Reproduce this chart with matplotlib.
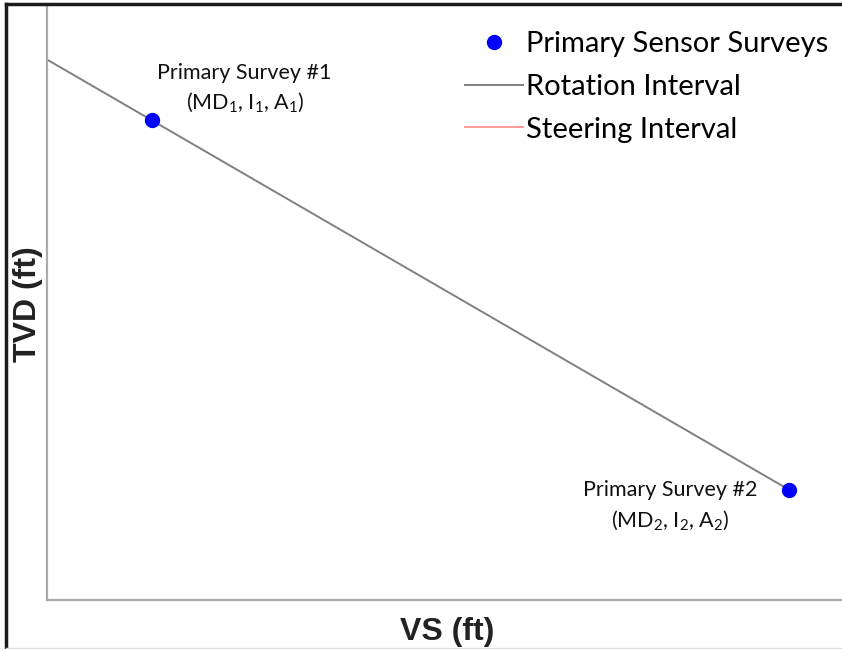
import matplotlib
matplotlib.use("Agg")
import matplotlib.pyplot as plt
from matplotlib.lines import Line2D

# survey stations (VS, TVD)
vs_surveys = [106, 747]
tvd_surveys = [116, 489]
survey_titles = ["Primary Survey #1", "Primary Survey #2"]
survey_params = [r"(MD$_1$, I$_1$, A$_1$)", r"(MD$_2$, I$_2$, A$_2$)"]

# rotation interval, starts at the TVD axis
vs_rotation = [0, 747]
tvd_rotation = [55, 489]

plt.rcParams['font.family'] = ['Lato', 'DejaVu Sans']
plt.rcParams['mathtext.default'] = 'regular'

W, H = 842, 649
fig = plt.figure(figsize=(W / 100, H / 100), dpi=100)
ax = fig.add_axes([47 / W, 1 - 600 / H, 795 / W, 595 / H])

ax.plot(vs_rotation, tvd_rotation, color='#808080', lw=1.4, label='Rotation Interval', zorder=2)
ax.plot([], [], color='#ff9a9a', lw=1.4, label='Steering Interval')
ax.plot(vs_surveys, tvd_surveys, 'o', color='#0000ff', ms=10, ls='none',
        label='Primary Sensor Surveys', zorder=3)

# labels next to each survey
offsets = [((66, 34), (67, 13)), ((-86, 0), (-86, -22))]
for x, y, t, p, (o1, o2) in zip(vs_surveys, tvd_surveys, survey_titles, survey_params, offsets):
    ax.annotate(t, (x, y), xytext=o1, textcoords='offset points',
                ha='center', va='center', fontsize=15.5, color='#111111')
    ax.annotate(p, (x, y), xytext=o2, textcoords='offset points',
                ha='center', va='center', fontsize=15.5, color='#111111')

ax.set_xlim(0, 800)
ax.set_ylim(600, 0)
ax.set_xticks([])
ax.set_yticks([])
for s in ['top', 'right']:
    ax.spines[s].set_visible(False)
for s in ['left', 'bottom']:
    ax.spines[s].set_color('#ababab')
    ax.spines[s].set_linewidth(1.6)

ax.set_xlabel('VS (ft)', fontsize=23, fontweight='bold', family='Liberation Sans',
              color='#222222', labelpad=12)
ax.xaxis.label.set_x(0.504)
ax.set_ylabel('TVD (ft)', fontsize=23, fontweight='bold', family='Liberation Sans',
              color='#222222', labelpad=3)
ax.yaxis.label.set_y(0.497)

handles, labels = ax.get_legend_handles_labels()
order = [2, 0, 1]
ax.legend([handles[i] for i in order], [labels[i] for i in order],
          loc='upper right', bbox_to_anchor=(1.0126, 0.995), frameon=False,
          fontsize=21, handlelength=2.0, handletextpad=0.12, labelspacing=0.57,
          borderaxespad=0.4)

# outer frame (top and left edges of the clipped picture)
fig.add_artist(Line2D([6 / W, 6 / W], [0, 1 - 4 / H], color='#1a1a1a', lw=2.5))
fig.add_artist(Line2D([6 / W, 1], [1 - 4 / H, 1 - 4 / H], color='#1a1a1a', lw=2.5))
fig.add_artist(Line2D([6 / W, 1], [1.5 / H, 1.5 / H], color='#dddddd', lw=1))

fig.savefig('out.png', dpi=100)
